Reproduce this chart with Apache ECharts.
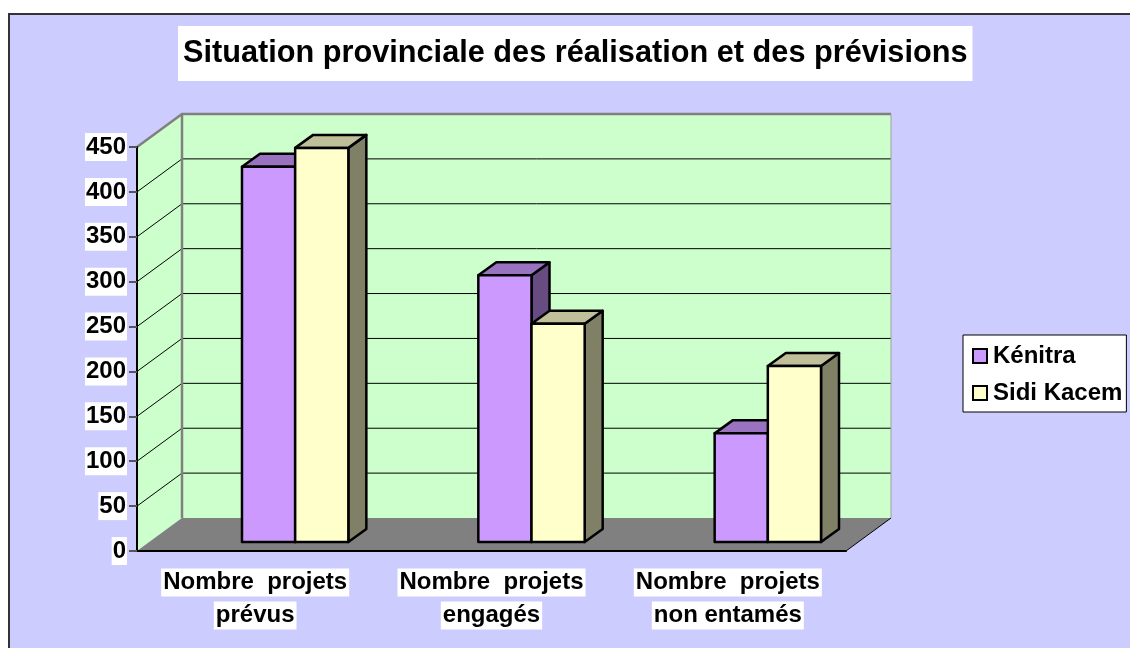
<!DOCTYPE html>
<html>
<head>
<meta charset="utf-8">
<script src="https://cdn.jsdelivr.net/npm/echarts@6/dist/echarts.min.js"></script>
<style>
  html, body { margin: 0; padding: 0; background: #fff; }
  #chart { width: 1130px; height: 648px; }
</style>
</head>
<body>
<div id="chart"></div>
<script>
// data
const categories = ['Nombre  projets\nprévus', 'Nombre  projets\nengagés', 'Nombre  projets\nnon entamés'];
const kenitra = [418, 297, 121];
const sidiKacem = [439, 243, 196];
const gridValues = [50, 100, 150, 200, 250, 300, 350, 400];
const yMax = 450;

// fake 3d offsets (pixels)
const WALL_DX = 45, WALL_DY = -33;
const BAR_DX = 40, BAR_DY = -9;
const TOP_DX = 18, TOP_DY = -13;
const BAR_RATIO = 0.225;
const FONT = "'Liberation Sans', Arial, sans-serif";

const myChart = echarts.init(document.getElementById('chart'));

function renderWalls(params, api) {
  const cs = params.coordSys;
  const L = cs.x, R = cs.x + cs.width;
  const y0 = api.coord([0, 0])[1];
  const yTop = api.coord([0, yMax])[1];
  const children = [];

  children.push({ type: 'rect', shape: { x: L + WALL_DX, y: yTop + WALL_DY, width: R - L, height: y0 - yTop },
    style: { fill: '#CCFFCC' } });
  children.push({ type: 'polygon',
    shape: { points: [[L, y0], [L + WALL_DX, y0 + WALL_DY], [L + WALL_DX, yTop + WALL_DY], [L, yTop]] },
    style: { fill: '#CCFFCC' } });

  gridValues.forEach((v) => {
    const y = api.coord([0, v])[1];
    children.push({ type: 'polyline',
      shape: { points: [[L, y], [L + WALL_DX, y + WALL_DY], [R + WALL_DX, y + WALL_DY]] },
      style: { stroke: '#000', lineWidth: 1, fill: null } });
  });

  // floor
  children.push({ type: 'polygon',
    shape: { points: [[L, y0], [R, y0], [R + WALL_DX, y0 + WALL_DY], [L + WALL_DX, y0 + WALL_DY]] },
    style: { fill: '#808080' } });
  children.push({ type: 'line',
    shape: { x1: R, y1: y0, x2: R + WALL_DX, y2: y0 + WALL_DY },
    style: { stroke: '#000', lineWidth: 1 } });

  // wall edges
  children.push({ type: 'polyline',
    shape: { points: [[L, yTop], [L + WALL_DX, yTop + WALL_DY], [R + WALL_DX, yTop + WALL_DY]] },
    style: { stroke: '#808080', lineWidth: 2.5, fill: null } });
  children.push({ type: 'line',
    shape: { x1: L + WALL_DX, y1: y0 + WALL_DY, x2: L + WALL_DX, y2: yTop + WALL_DY },
    style: { stroke: '#808080', lineWidth: 2.5 } });
  children.push({ type: 'line',
    shape: { x1: R + WALL_DX, y1: y0 + WALL_DY, x2: R + WALL_DX, y2: yTop + WALL_DY },
    style: { stroke: '#A0A0A0', lineWidth: 1 } });

  return { type: 'group', children: children };
}

function makeBar(side, frontColor, topColor, sideColor) {
  return function (params, api) {
    const i = api.value(0);
    const v = api.value(1);
    const base = api.coord([i, 0]);
    const peak = api.coord([i, v]);
    const bw = api.size([1, 0])[0] * BAR_RATIO;
    const xc = base[0] + BAR_DX;
    const x0 = side < 0 ? xc - bw : xc;
    const x1 = x0 + bw;
    const yb = base[1] + BAR_DY;
    const yt = peak[1] + BAR_DY;
    const line = { stroke: '#000', lineWidth: 2.5, lineJoin: 'round' };
    return {
      type: 'group',
      children: [
        { type: 'polygon',
          shape: { points: [[x1, yt], [x1 + TOP_DX, yt + TOP_DY], [x1 + TOP_DX, yb + TOP_DY], [x1, yb]] },
          style: Object.assign({ fill: sideColor }, line) },
        { type: 'polygon',
          shape: { points: [[x0, yt], [x1, yt], [x1 + TOP_DX, yt + TOP_DY], [x0 + TOP_DX, yt + TOP_DY]] },
          style: Object.assign({ fill: topColor }, line) },
        { type: 'rect',
          shape: { x: x0, y: yt, width: bw, height: yb - yt },
          style: Object.assign({ fill: frontColor }, line) }
      ]
    };
  };
}

const option = {
  animation: false,
  backgroundColor: '#CCCCFF',
  graphic: [
    { type: 'rect', shape: { x: 0, y: 0, width: 1130, height: 13 }, style: { fill: '#fff' } },
    { type: 'rect', shape: { x: 0, y: 0, width: 8, height: 648 }, style: { fill: '#fff' } },
    { type: 'polyline', shape: { points: [[9, 648], [9, 14], [1130, 14]] },
      style: { stroke: '#333', lineWidth: 2, fill: null } }
  ],
  title: {
    text: 'Situation provinciale des réalisation et des prévisions',
    left: 178,
    top: 26,
    backgroundColor: '#fff',
    padding: [12, 5, 12, 5],
    textStyle: { fontSize: 30.7, fontWeight: 'bold', color: '#000', fontFamily: FONT }
  },
  legend: {
    orient: 'vertical',
    left: 963,
    top: 335,
    backgroundColor: '#fff',
    borderColor: '#000',
    borderWidth: 1,
    padding: [9, 4, 7, 9],
    itemGap: 13,
    itemWidth: 14,
    itemHeight: 14,
    icon: 'rect',
    itemStyle: { borderColor: '#000', borderWidth: 2 },
    textStyle: { fontSize: 24, fontWeight: 'bold', color: '#000', fontFamily: FONT, padding: [0, 0, 0, 1] },
    data: ['Kénitra', 'Sidi Kacem']
  },
  grid: { left: 137, right: 284, top: 147, bottom: 97 },
  xAxis: {
    type: 'category',
    data: categories,
    z: 5,
    axisLine: { lineStyle: { color: '#000', width: 2 } },
    axisTick: { length: 8, lineStyle: { color: '#000', width: 1.5 } },
    axisLabel: {
      margin: 15,
      interval: 0,
      formatter: (v) => v.split('\n').map((s) => '{a|' + s + '}').join('\n'),
      rich: {
        a: { fontSize: 24, fontWeight: 'bold', color: '#000', fontFamily: FONT,
          backgroundColor: '#fff', padding: [2, 2, 2, 2], lineHeight: 33 }
      }
    }
  },
  yAxis: {
    type: 'value',
    min: 0,
    max: yMax,
    interval: 50,
    z: 5,
    splitLine: { show: false },
    axisLine: { show: true, lineStyle: { color: '#000', width: 2 } },
    axisTick: { show: true, length: 8, lineStyle: { color: '#555', width: 2 } },
    axisLabel: {
      margin: 10,
      fontSize: 24, fontWeight: 'bold', color: '#000', fontFamily: FONT,
      backgroundColor: '#fff', padding: [3, 1, 1, 1]
    }
  },
  series: [
    {
      type: 'custom',
      name: 'walls',
      z: 1,
      silent: true,
      renderItem: renderWalls,
      data: [[0, 0]]
    },
    {
      type: 'custom',
      name: 'Kénitra',
      z: 2,
      itemStyle: { color: '#CC99FF' },
      renderItem: makeBar(-1, '#CC99FF', '#9973BF', '#664C80'),
      encode: { x: 0, y: 1 },
      data: kenitra.map((v, i) => [i, v])
    },
    {
      type: 'custom',
      name: 'Sidi Kacem',
      z: 3,
      itemStyle: { color: '#FFFFCC' },
      renderItem: makeBar(1, '#FFFFCC', '#BFBF99', '#808066'),
      encode: { x: 0, y: 1 },
      data: sidiKacem.map((v, i) => [i, v])
    }
  ]
};

myChart.setOption(option);
window.addEventListener('resize', function () {
  myChart.resize();
});
</script>
</body>
</html>
